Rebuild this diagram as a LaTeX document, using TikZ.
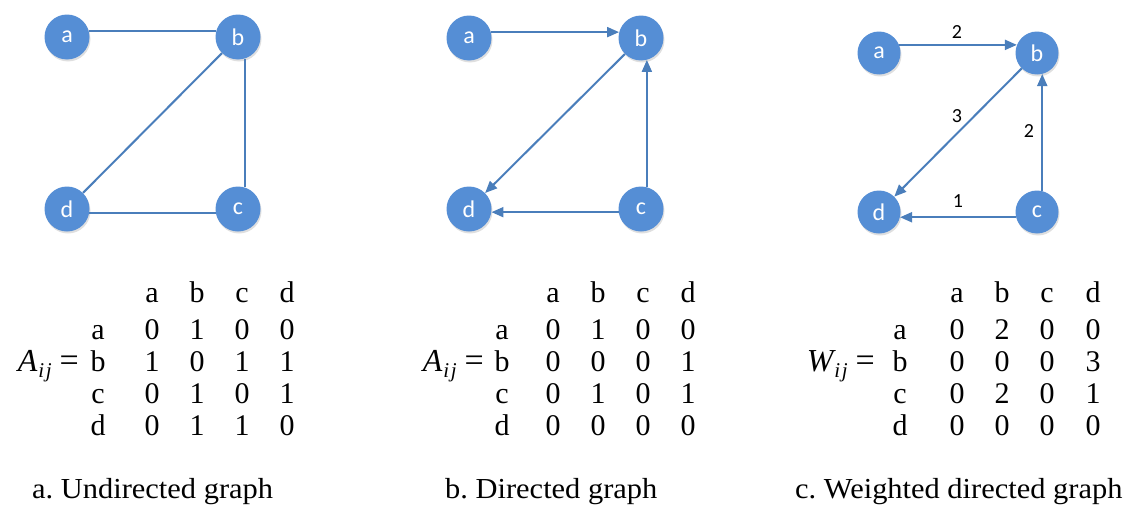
\documentclass[tikz,border=0pt]{standalone}
\usepackage{fontspec}
\setmainfont{Liberation Serif}
\newfontfamily\nodefont{Carlito}
\newfontfamily\capfont[FakeStretch=1.05]{Liberation Serif}
\usetikzlibrary{arrows.meta,shadows}
\definecolor{nodeblue}{HTML}{558ED5}
\definecolor{edgeblue}{HTML}{4A7EBB}
\tikzset{
  vtx/.style={circle,fill=nodeblue,minimum size=45pt,inner sep=0pt,text=white,
    font=\nodefont\fontsize{24}{28}\selectfont,
    drop shadow={shadow xshift=1pt,shadow yshift=-2pt,opacity=0.25}},
  svtx/.style={vtx,minimum size=43pt},
  edge/.style={draw=edgeblue,line width=2pt},
  arr/.style={edge,-{Triangle[length=12pt,width=10pt]}},
  wlab/.style={font=\nodefont\fontsize{20}{24}\selectfont,text=black,inner sep=0pt},
  mt/.style={anchor=base,inner sep=0pt,font=\fontsize{30}{34}\selectfont},
  eqlab/.style={anchor=base east,inner sep=0pt,font=\fontsize{30}{34}\selectfont},
  caplab/.style={anchor=base west,inner sep=0pt,font=\capfont\fontsize{29}{34}\selectfont}
}
\newcommand{\mlhs}[1]{{\fontsize{32}{36}\selectfont\itshape #1}\kern1pt\raisebox{-6pt}{\fontsize{21}{24}\selectfont\itshape i\kern1.5pt j}\kern8pt{\fontsize{34}{36}\selectfont =}}
\begin{document}
\frenchspacing
\begin{tikzpicture}[x=1pt,y=-1pt]
\useasboundingbox (0,0) rectangle (1129,506);
% ---------- graph a ----------
\node[vtx] (a1) at (67,37) {a};
\node[vtx] (b1) at (238,37) {b};
\node[vtx] (c1) at (238,209) {c};
\node[vtx] (d1) at (67,209) {d};
\draw[edge] (a1.15) -- (b1.165);
\draw[edge] (b1) -- (d1);
\draw[edge] (b1.-72) -- (c1.72);
\draw[edge] (d1.-10) -- (c1.190);
% ---------- graph b ----------
\node[vtx] (a2) at (469,38) {a};
\node[vtx] (b2) at (641,38) {b};
\node[vtx] (c2) at (641,209) {c};
\node[vtx] (d2) at (469,209) {d};
\draw[arr] (a2.15) -- (b2.165);
\draw[arr] (b2) -- (d2);
\draw[arr] (c2.75) -- (b2.-75);
\draw[arr] (c2.188) -- (d2.-8);
% ---------- graph c ----------
\node[svtx] (a3) at (879,53) {a};
\node[svtx] (b3) at (1037,53) {b};
\node[svtx] (c3) at (1037,212) {c};
\node[svtx] (d3) at (879,212) {d};
\draw[arr] (a3.22) -- (b3.158);
\draw[arr] (b3) -- (d3);
\draw[arr] (c3.76) -- (b3.-76);
\draw[arr] (c3.194) -- (d3.-14);
\node[wlab] (w1) at (957,32) {2};
\node[wlab] (w2) at (957,116) {3};
\node[wlab] (w3) at (1029,131) {2};
\node[wlab] (w4) at (958,201) {1};
% ---------- matrix a ----------
\node[eqlab] (eq1) at (79,371) {\mlhs{A}};
\foreach \lab/\y [count=\i] in {a/339,b/371,c/403,d/435}{
  \node[mt] (r1\i) at (98,\y) {\lab};}
\foreach \lab/\x [count=\i] in {a/152,b/197,c/242,d/287}{
  \node[mt] (h1\i) at (\x,302) {\lab};}
\foreach \x/\y/\v [count=\k] in {152/339/0,197/339/1,242/339/0,287/339/0,
  152/371/1,197/371/0,242/371/1,287/371/1,
  152/403/0,197/403/1,242/403/0,287/403/1,
  152/435/0,197/435/1,242/435/1,287/435/0}{
  \node[mt] (m1c\k) at (\x,\y) {\v};}
% ---------- matrix b ----------
\node[eqlab] (eq2) at (484,371) {\mlhs{A}};
\foreach \lab/\y [count=\i] in {a/339,b/371,c/403,d/435}{
  \node[mt] (r2\i) at (502,\y) {\lab};}
\foreach \lab/\x [count=\i] in {a/553,b/598,c/643,d/688}{
  \node[mt] (h2\i) at (\x,302) {\lab};}
\foreach \x/\y/\v [count=\k] in {553/339/0,598/339/1,643/339/0,688/339/0,
  553/371/0,598/371/0,643/371/0,688/371/1,
  553/403/0,598/403/1,643/403/0,688/403/1,
  553/435/0,598/435/0,643/435/0,688/435/0}{
  \node[mt] (m2c\k) at (\x,\y) {\v};}
% ---------- matrix c ----------
\node[eqlab] (eq3) at (875,371) {\mlhs{W}};
\foreach \lab/\y [count=\i] in {a/339,b/371,c/403,d/435}{
  \node[mt] (r3\i) at (900,\y) {\lab};}
\foreach \lab/\x [count=\i] in {a/957,b/1002,c/1047,d/1093}{
  \node[mt] (h3\i) at (\x,302) {\lab};}
\foreach \x/\y/\v [count=\k] in {957/339/0,1002/339/2,1047/339/0,1093/339/0,
  957/371/0,1002/371/0,1047/371/0,1093/371/3,
  957/403/0,1002/403/2,1047/403/0,1093/403/1,
  957/435/0,1002/435/0,1047/435/0,1093/435/0}{
  \node[mt] (m3c\k) at (\x,\y) {\v};}
% ---------- captions ----------
\node[caplab] (capa) at (32,498) {a. Undirected graph};
\node[caplab] (capb) at (445,498) {b. Directed graph};
\node[caplab] (capc) at (795,498) {c. Weighted directed graph};
\end{tikzpicture}
\end{document}
